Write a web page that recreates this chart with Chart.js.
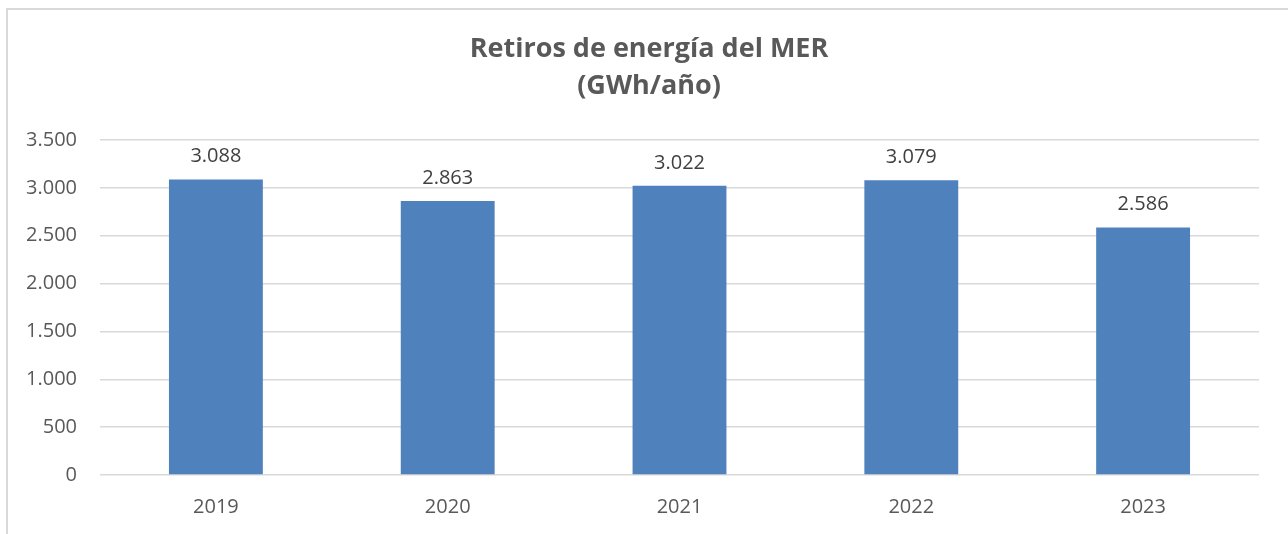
<!DOCTYPE html>
<html>
<head>
<meta charset="utf-8">
<title>Retiros de energía del MER</title>
<script src="https://cdn.jsdelivr.net/npm/chart.js@4.4.1/dist/chart.umd.min.js"></script>
<style>
  html, body { margin: 0; padding: 0; background: #fff; overflow: hidden; }
  #wrap { position: relative; width: 1288px; height: 534px; }
  #frame {
    position: absolute; left: 6px; top: 8px; width: 1300px; height: 560px;
    border: 2px solid #d9d9d9; box-sizing: border-box; pointer-events: none;
  }
  canvas { position: absolute; left: 0; top: 0; }
</style>
</head>
<body>
<div id="wrap">
  <canvas id="myChart" width="1288" height="534"></canvas>
  <div id="frame"></div>
</div>
<script>
// retiros anuales de energía, GWh
var years = ['2019', '2020', '2021', '2022', '2023'];
var retiros = [3088, 2863, 3022, 3079, 2586];
var yTicks = [0, 500, 1000, 1500, 2000, 2500, 3000, 3500];
var titleLines = ['Retiros de energía del MER', '(GWh/año)'];

var FONT = "'Open Sans', 'Liberation Sans', sans-serif";

// 3088 -> "3.088"
function fmt(v) {
  return String(v).replace(/\B(?=(\d{3})+(?!\d))/g, '.');
}

// two-line bold title above the plot
var titlePlugin = {
  id: 'twoLineTitle',
  afterDraw: function(chart) {
    var ctx = chart.ctx;
    ctx.save();
    ctx.font = 'bold 27px ' + FONT;
    ctx.fillStyle = '#595959';
    ctx.textAlign = 'center';
    ctx.textBaseline = 'alphabetic';
    ctx.fillText(titleLines[0], 649, 57);
    ctx.fillText(titleLines[1], 649, 94);
    ctx.restore();
  }
};

// value printed over every bar
var valueLabels = {
  id: 'valueLabels',
  afterDatasetsDraw: function(chart) {
    var ctx = chart.ctx;
    var meta = chart.getDatasetMeta(0);
    ctx.save();
    ctx.font = '20px ' + FONT;
    ctx.fillStyle = '#404040';
    ctx.textAlign = 'center';
    ctx.textBaseline = 'alphabetic';
    meta.data.forEach(function(bar, i) {
      ctx.fillText(fmt(chart.data.datasets[0].data[i]), bar.x, bar.y - 17);
    });
    ctx.restore();
  }
};

var ctx = document.getElementById('myChart').getContext('2d');
var chart = new Chart(ctx, {
  type: 'bar',
  data: {
    labels: years,
    datasets: [{
      data: retiros,
      backgroundColor: '#4f81bd',
      borderWidth: 0,
      categoryPercentage: 1,
      barPercentage: 0.405
    }]
  },
  options: {
    responsive: false,
    animation: false,
    devicePixelRatio: 1,
    layout: { padding: { left: 0, right: 29, top: 140, bottom: 0 } },
    plugins: {
      legend: { display: false },
      tooltip: { enabled: false }
    },
    scales: {
      x: {
        grid: { display: false, drawTicks: false },
        border: { display: false },
        ticks: { color: '#595959', font: { family: FONT, size: 20 }, padding: 20 },
        afterFit: function(scale) { scale.height = 59; }
      },
      y: {
        min: 0,
        max: 3500,
        afterBuildTicks: function(scale) {
          scale.ticks = yTicks.map(function(v) { return { value: v }; });
        },
        grid: { color: '#d9d9d9', lineWidth: 1.5, drawTicks: false },
        border: { display: false },
        ticks: {
          color: '#595959',
          font: { family: FONT, size: 20 },
          padding: 23,
          callback: function(v) { return fmt(v); }
        },
        afterFit: function(scale) { scale.width = 100; }
      }
    }
  },
  plugins: [titlePlugin, valueLabels]
});
</script>
</body>
</html>
